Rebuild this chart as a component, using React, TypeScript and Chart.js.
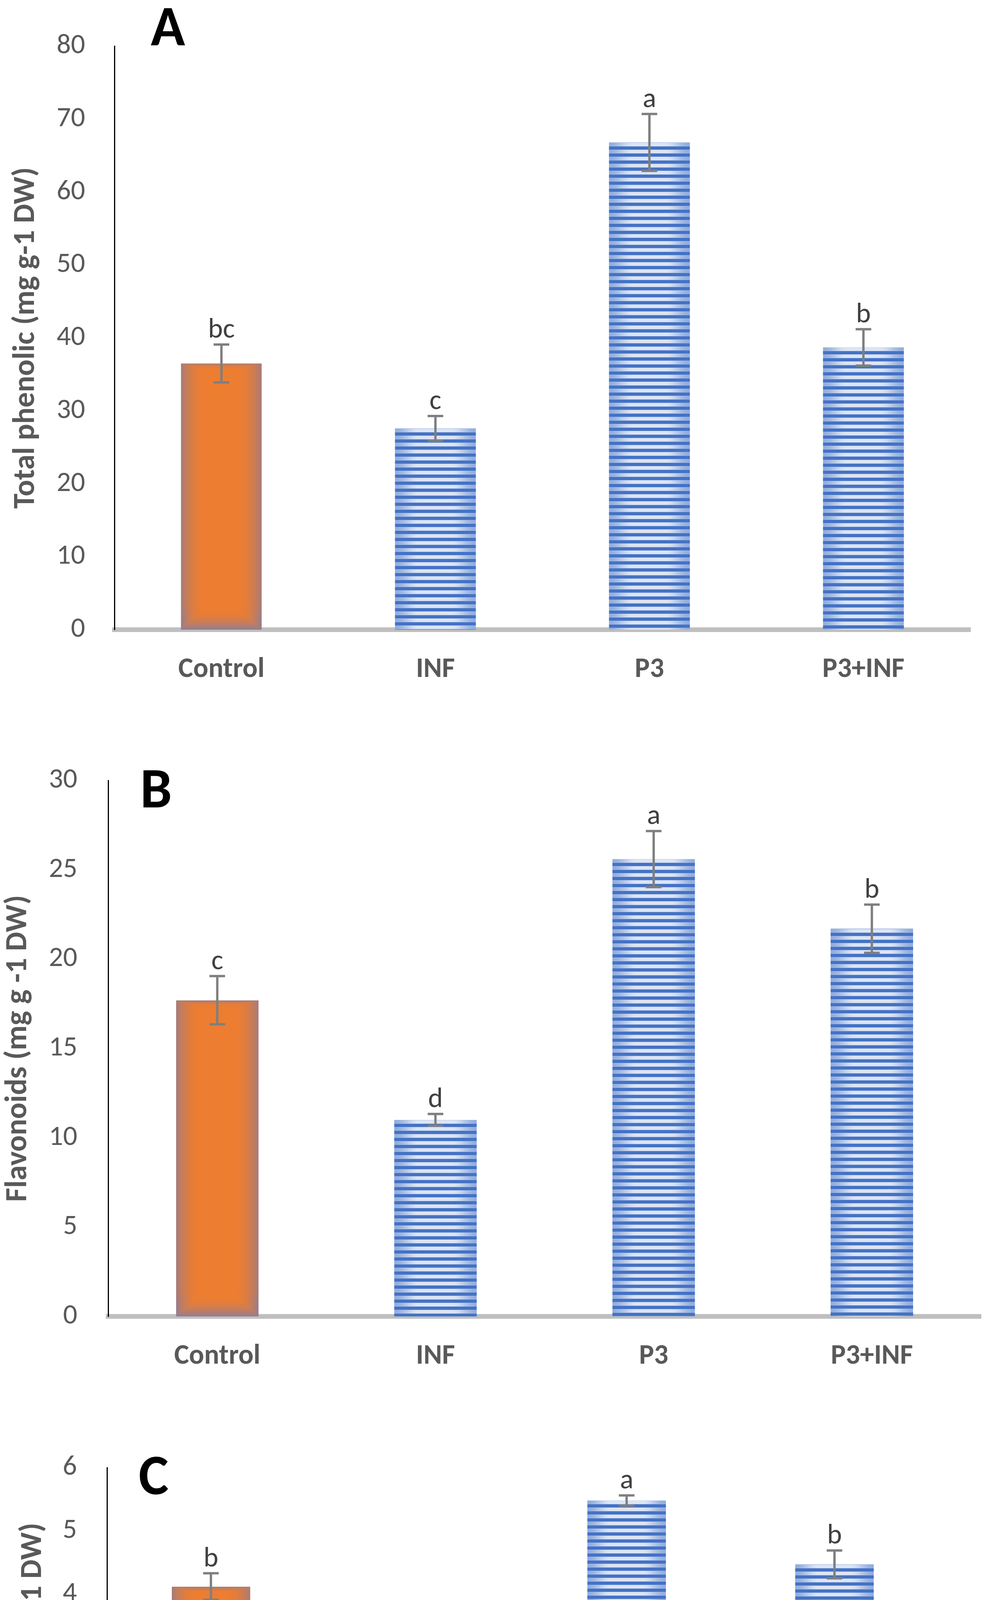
import React, { useEffect, useRef } from 'react';
import { Chart, registerables } from 'chart.js';

Chart.register(...registerables);

// ---------------- data ----------------
const categories = ['Control', 'INF', 'P3', 'P3+INF'];

const phenolicValues = [36.5, 27.6, 66.8, 38.7];
const phenolicErrors = [2.6, 1.7, 3.9, 2.5];
const phenolicLetters = ['bc', 'c', 'a', 'b'];
const phenolicTitle = 'Total phenolic (mg g-1 DW)';
const phenolicAxis = { max: 80, step: 10 };

const flavonoidValues = [17.7, 11.0, 25.6, 21.7];
const flavonoidErrors = [1.35, 0.33, 1.57, 1.35];
const flavonoidLetters = ['c', 'd', 'a', 'b'];
const flavonoidTitle = 'Flavonoids (mg g -1 DW)';
const flavonoidAxis = { max: 30, step: 5 };

const tacValues = [4.12, 3.09, 5.48, 4.47];
const tacErrors = [0.21, 0.15, 0.08, 0.22];
const tacLetters = ['b', 'c', 'a', 'b'];
const tacTitle = 'TAC (mg ASA g-1 DW)';
const tacAxis = { max: 6, step: 1 };

// ---------------- layout / style ----------------
const PAGE_W = 2530;
const PAGE_H = 4878;
const FONT = 'Carlito, Lato, "Open Sans", sans-serif';
const BAR_FRACTION = 0.378;
const ORANGE = [237, 125, 49];
const ORANGE_EDGE = [166, 123, 122];
const ORANGE_EDGE_BOTTOM = [128, 126, 168];
const BLUE_DARK = [68, 114, 196];
const BLUE_LIGHT_C = [220, 229, 244];
const BLUE_LIGHT_E = [146, 173, 222];
const STRIPE_PERIOD = 18;
const STRIPE_LIGHT = 10;

type Area = { left: number; right: number; top: number; bottom: number };

type PanelSpec = {
  id: string;
  top: number;
  height: number;
  area: Area;
  values: number[];
  errors: number[];
  letters: string[];
  title: string;
  axis: { max: number; step: number };
  tickPad: number;
  titlePad: number;
  tag: { x: number; y: number };
};

const panels: PanelSpec[] = [
  {
    id: 'A', top: 0, height: 1800,
    area: { left: 293, right: 2485, top: 114, bottom: 1612 },
    values: phenolicValues, errors: phenolicErrors, letters: phenolicLetters,
    title: phenolicTitle, axis: phenolicAxis, tickPad: 75, titlePad: 21,
    tag: { x: 386, y: 116 },
  },
  {
    id: 'B', top: 1800, height: 1780,
    area: { left: 277, right: 2512, top: 198, bottom: 1570 },
    values: flavonoidValues, errors: flavonoidErrors, letters: flavonoidLetters,
    title: flavonoidTitle, axis: flavonoidAxis, tickPad: 79, titlePad: 1,
    tag: { x: 359, y: 267 },
  },
  {
    id: 'C', top: 3580, height: 1298,
    area: { left: 274, right: 2403, top: 177, bottom: 1149 },
    values: tacValues, errors: tacErrors, letters: tacLetters,
    title: tacTitle, axis: tacAxis, tickPad: 77, titlePad: 39,
    tag: { x: 355, y: 245 },
  },
];

const clamp01 = (v: number) => (v < 0 ? 0 : v > 1 ? 1 : v);
const easeOut = (t: number) => 1 - (1 - t) * (1 - t);
const smooth = (t: number) => t * t * (3 - 2 * t);
const mix = (a: number[], b: number[], t: number) => [
  a[0] + (b[0] - a[0]) * t,
  a[1] + (b[1] - a[1]) * t,
  a[2] + (b[2] - a[2]) * t,
];

function orangeCanvas(w: number, h: number): HTMLCanvasElement {
  const W = Math.max(1, Math.round(w));
  const H = Math.max(1, Math.round(h));
  const off = document.createElement('canvas');
  off.width = W;
  off.height = H;
  const octx = off.getContext('2d')!;
  const img = octx.createImageData(W, H);
  const gx = 0.3 * W;
  for (let y = 0; y < H; y++) {
    const tTop = (y + 0.5) / 16;
    const tBot = (H - y - 0.5) / 55;
    for (let x = 0; x < W; x++) {
      const dx = Math.min(x + 0.5, W - x - 0.5);
      const t = clamp01(Math.min(dx / gx, tTop, tBot));
      const s = easeOut(t);
      const bottomness = clamp01(1 - (H - y) / 70);
      const edge = mix(ORANGE_EDGE, ORANGE_EDGE_BOTTOM, bottomness * 0.6);
      const c = mix(edge, ORANGE, s);
      const k = (y * W + x) * 4;
      img.data[k] = c[0];
      img.data[k + 1] = c[1];
      img.data[k + 2] = c[2];
      img.data[k + 3] = 255;
    }
  }
  octx.putImageData(img, 0, 0);
  return off;
}

function stripeCanvas(w: number): HTMLCanvasElement {
  const W = Math.max(1, Math.round(w));
  const H = STRIPE_PERIOD;
  const off = document.createElement('canvas');
  off.width = W;
  off.height = H;
  const octx = off.getContext('2d')!;
  const img = octx.createImageData(W, H);
  const gx = 0.3 * W;
  for (let y = 0; y < H; y++) {
    for (let x = 0; x < W; x++) {
      const dx = Math.min(x + 0.5, W - x - 0.5);
      const s = smooth(clamp01(dx / gx));
      let c: number[];
      if (y >= STRIPE_LIGHT) {
        c = BLUE_DARK;
      } else {
        c = mix(BLUE_LIGHT_E, BLUE_LIGHT_C, s);
        if (y === 0 || y === STRIPE_LIGHT - 1) c = mix(c, [150, 176, 224], 0.55);
      }
      const k = (y * W + x) * 4;
      img.data[k] = c[0];
      img.data[k + 1] = c[1];
      img.data[k + 2] = c[2];
      img.data[k + 3] = 255;
    }
  }
  octx.putImageData(img, 0, 0);
  return off;
}

function makeBarFill(values: number[]) {
  const cache = new Map<string, CanvasPattern | string>();
  return (c: any) => {
    if (c.type !== 'data') return '#4472C4';
    const chart = c.chart;
    const xs = chart.scales?.x;
    const ys = chart.scales?.y;
    if (!xs || !ys || !chart.chartArea) return c.dataIndex === 0 ? '#ED7D31' : '#4472C4';
    const i = c.dataIndex;
    const n = chart.data.labels.length;
    const w = (xs.width / n) * BAR_FRACTION;
    const cx = xs.getPixelForValue(i);
    const left = cx - w / 2;
    const top = ys.getPixelForValue(values[i]);
    const base = ys.getPixelForValue(0);
    const key = [i, left.toFixed(1), top.toFixed(1), w.toFixed(1), base.toFixed(1)].join('|');
    const hit = cache.get(key);
    if (hit) return hit;
    const ctx: CanvasRenderingContext2D = chart.ctx;
    let pat: CanvasPattern | null;
    if (i === 0) {
      pat = ctx.createPattern(orangeCanvas(w, base - top), 'no-repeat');
    } else {
      pat = ctx.createPattern(stripeCanvas(w), 'repeat');
    }
    if (!pat) return i === 0 ? '#ED7D31' : '#4472C4';
    pat.setTransform(new DOMMatrix([1, 0, 0, 1, Math.round(left), Math.round(top)]));
    cache.set(key, pat);
    return pat;
  };
}

function makeOverlayPlugin(spec: PanelSpec) {
  return {
    id: 'errorsAndLetters' + spec.id,
    afterDatasetsDraw(chart: any) {
      const ctx: CanvasRenderingContext2D = chart.ctx;
      const xs = chart.scales.x;
      const ys = chart.scales.y;
      ctx.save();
      ctx.strokeStyle = '#7F7F7F';
      ctx.lineWidth = 6;
      ctx.lineCap = 'butt';
      spec.values.forEach((v, i) => {
        const cx = xs.getPixelForValue(i);
        const yt = ys.getPixelForValue(v + spec.errors[i]);
        const yb = ys.getPixelForValue(v - spec.errors[i]);
        ctx.beginPath();
        ctx.moveTo(cx, yt);
        ctx.lineTo(cx, yb);
        ctx.moveTo(cx - 20, yt);
        ctx.lineTo(cx + 20, yt);
        ctx.moveTo(cx - 20, yb);
        ctx.lineTo(cx + 20, yb);
        ctx.stroke();
        ctx.fillStyle = '#404040';
        ctx.font = `72px ${FONT}`;
        ctx.textAlign = 'center';
        ctx.textBaseline = 'alphabetic';
        ctx.fillText(spec.letters[i], cx, yt - 18);
      });
      ctx.fillStyle = '#000000';
      ctx.font = `bold 145px ${FONT}`;
      ctx.textAlign = 'left';
      ctx.textBaseline = 'alphabetic';
      ctx.fillText(spec.id, spec.tag.x, spec.tag.y);
      ctx.restore();
    },
  };
}

function Panel({ spec }: { spec: PanelSpec }) {
  const ref = useRef<HTMLCanvasElement | null>(null);
  useEffect(() => {
    const canvas = ref.current;
    if (!canvas) return;
    const { area, height } = spec;
    const chart = new Chart(canvas, {
      type: 'bar',
      data: {
        labels: categories,
        datasets: [
          {
            data: spec.values,
            backgroundColor: makeBarFill(spec.values) as any,
            borderWidth: 0,
            categoryPercentage: 1,
            barPercentage: BAR_FRACTION,
          },
        ],
      },
      options: {
        responsive: false,
        animation: false,
        devicePixelRatio: 1,
        layout: { padding: { top: area.top, right: PAGE_W - area.right, bottom: 0, left: 0 } },
        plugins: {
          legend: { display: false },
          tooltip: { enabled: false },
          title: { display: false },
        },
        scales: {
          x: {
            type: 'category',
            offset: true,
            grid: { display: false, drawTicks: false },
            border: { display: true, color: '#BFBFBF', width: 12 },
            ticks: {
              font: { family: FONT, size: 72, weight: 'bold' },
              color: '#595959',
              padding: 60,
              maxRotation: 0,
              autoSkip: false,
            },
            afterFit: (s: any) => {
              s.height = height - area.bottom;
            },
          },
          y: {
            min: 0,
            max: spec.axis.max,
            grid: { display: false, drawTicks: false },
            border: { display: true, color: '#000000', width: 3 },
            ticks: {
              stepSize: spec.axis.step,
              font: { family: FONT, size: 72 },
              color: '#595959',
              padding: spec.tickPad,
            },
            title: {
              display: true,
              text: spec.title,
              font: { family: FONT, size: 78, weight: 'bold' },
              color: '#595959',
              padding: { top: spec.titlePad, bottom: 0 },
            },
            afterFit: (s: any) => {
              s.width = area.left;
            },
          },
        },
      } as any,
      plugins: [makeOverlayPlugin(spec)],
    });
    return () => chart.destroy();
  }, [spec]);
  return (
    <canvas
      ref={ref}
      width={PAGE_W}
      height={spec.height}
      style={{ position: 'absolute', left: 0, top: spec.top, width: PAGE_W, height: spec.height, display: 'block' }}
    />
  );
}

export default function App() {
  return (
    <div
      style={{
        position: 'absolute',
        left: 0,
        top: 0,
        width: PAGE_W,
        height: PAGE_H,
        background: '#ffffff',
        overflow: 'hidden',
      }}
    >
      {panels.map((p) => (
        <Panel key={p.id} spec={p} />
      ))}
    </div>
  );
}
